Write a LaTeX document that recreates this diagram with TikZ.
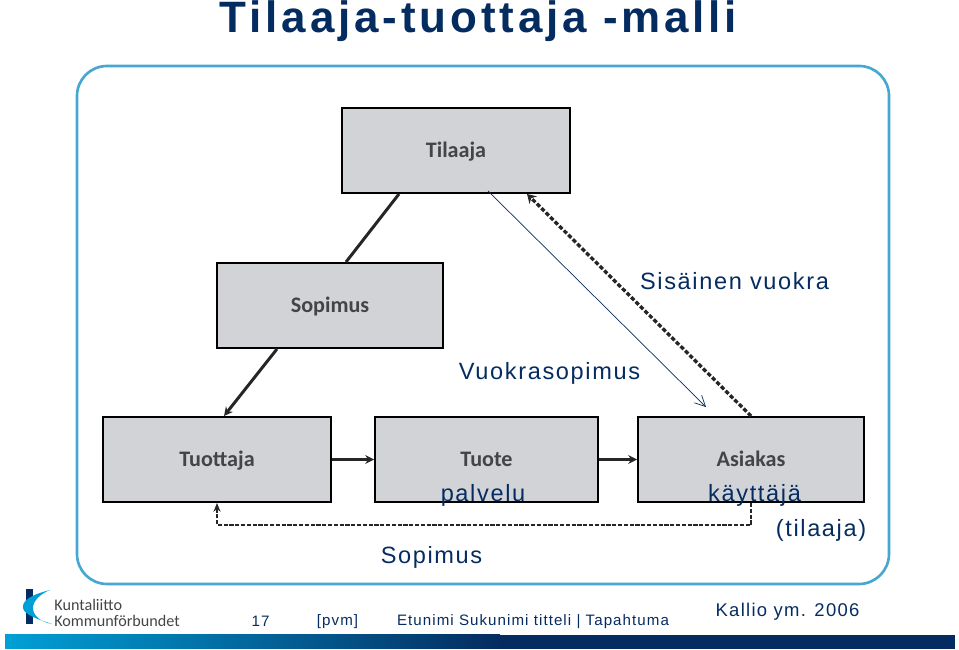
\documentclass[tikz,border=0pt]{standalone}
\usepackage{xcolor}
\usepackage{fontspec}
\setmainfont{Liberation Sans}
\newfontfamily\titlefont[LetterSpace=8.8]{Liberation Sans}
\newfontfamily\notefont[LetterSpace=7]{Liberation Sans}
\newfontfamily\boxfont{Carlito}
\usetikzlibrary{arrows.meta, positioning, calc}
\definecolor{kuntaBlue}{RGB}{5, 44, 96}
\definecolor{kuntaFrame}{RGB}{70, 168, 208}
\definecolor{kuntaGrey}{RGB}{209, 211, 214}
\definecolor{kuntaCyan}{RGB}{0, 160, 214}
\definecolor{kuntaText}{RGB}{66, 68, 72}
\tikzset{
  blockbox/.style={draw=black, line width=1.1pt, fill=kuntaGrey, text=kuntaText, font=\boxfont\bfseries\fontsize{12.6}{15}\selectfont, minimum height=1.7cm, text height=1.95ex, text depth=0.4ex},
  note/.style={text=kuntaBlue, font=\notefont\fontsize{13.4}{16}\selectfont, inner sep=0pt},
  footer/.style={text=kuntaBlue, font=\notefont\fontsize{8.6}{10}\selectfont, inner sep=0pt},
  solidlink/.style={line width=1.7pt, black!85},
  dashlink/.style={line width=1.4pt, black!85, dash pattern=on 2.4pt off 0.9pt}
}
\begin{document}
\begin{tikzpicture}
  \useasboundingbox (0,0) rectangle (19.18,13);
  \node[text=kuntaBlue, font=\titlefont\bfseries\fontsize{25}{28}\selectfont, inner sep=0pt, anchor=base] (title) at (9.57,12.34) {Tilaaja-tuottaja -malli};
  \node[draw=kuntaFrame, line width=1.5pt, rounded corners=0.6cm, minimum width=16.24cm, minimum height=10.36cm, inner sep=0pt] (frame) at (9.66,6.5) {};
  \node[blockbox, minimum width=4.56cm] (tilaaja) at (9.12,9.99) {Tilaaja};
  \node[blockbox, minimum width=4.52cm] (sopimus) at (6.6,6.89) {Sopimus};
  \node[blockbox, minimum width=4.56cm] (tuottaja) at (4.34,3.81) {Tuottaja};
  \node[blockbox, minimum width=4.46cm] (tuote) at (9.73,3.81) {Tuote};
  \node[blockbox, minimum width=4.52cm] (asiakas) at (15.02,3.81) {Asiakas};
  \draw[solidlink] ([xshift=-1.14cm]tilaaja.south) -- ([xshift=0.32cm]sopimus.north);
  \draw[solidlink, -{Stealth[length=5pt,width=5pt]}] ([xshift=-1.06cm]sopimus.south) -- ([xshift=0.14cm]tuottaja.north);
  \draw[solidlink, -{Stealth[length=5pt,width=5pt]}] (tuottaja) -- (tuote);
  \draw[solidlink, -{Stealth[length=5pt,width=5pt]}] (tuote) -- (asiakas);
  \draw[dashlink, -{Stealth[length=5pt,width=4pt]}] (asiakas.south) -- ++(0,-0.44) -| (tuottaja.south);
  \draw[dashlink, line width=1.9pt, dash pattern=on 2.4pt off 1.2pt, -{Stealth[length=5pt,width=6pt]}] (asiakas.north) -- ([xshift=1.42cm]tilaaja.south);
  \coordinate (vuokrastart) at ([xshift=0.64cm,yshift=0.06cm]tilaaja.south);
  \coordinate (vuokraend) at ([xshift=-0.9cm,yshift=0.18cm]asiakas.north);
  \draw[kuntaBlue, line width=0.4pt, -{Straight Barb[length=6pt,width=6pt]}] (vuokrastart) -- (vuokraend);
  \node[note] (vuokra) at (14.69,7.38) {Sisäinen vuokra};
  \node[note] (vuokrasopimus) at (10.99,5.54) {Vuokrasopimus};
  \node[note] (palvelu) at (9.66,3.09) {palvelu};
  \node[note] (kayttaja) at (15.09,3.09) {käyttäjä};
  \node[note] (rooli) at (16.42,2.39) {(tilaaja)};
  \node[note] (sopimusnote) at (8.63,1.85) {Sopimus};
  \node[footer] (sivu) at (5.21,0.57) {17};
  \node[footer] (pvm) at (6.75,0.57) {[pvm]};
  \node[footer] (esittaja) at (10.66,0.57) {Etunimi Sukunimi titteli | Tapahtuma};
  \node[footer, font=\notefont\fontsize{10.5}{12}\selectfont] (lahde) at (15.75,0.77) {Kallio ym. 2006};
  \fill[kuntaBlue] (0.52,0.52) rectangle (0.66,1.22);
  \fill[kuntaCyan] (1.0,1.2) .. controls (0.6,1.1) and (0.44,0.98) .. (0.46,0.84) .. controls (0.48,0.7) and (0.8,0.6) .. (1.04,0.52) .. controls (0.82,0.56) and (0.66,0.68) .. (0.66,0.84) .. controls (0.66,0.98) and (0.8,1.12) .. (1.0,1.2);
  \node[text=kuntaText, font=\boxfont\fontsize{9.2}{8.8}\selectfont, align=left, inner sep=0pt, anchor=west] (logo) at (1.08,0.74) {Kuntaliitto\\Kommunförbundet};
  \fill[kuntaBlue] (9.9,0.02) rectangle (19.1,0.3);
  \shade[left color=kuntaCyan, right color=kuntaBlue] (0.1,0.02) rectangle (10,0.3);
\end{tikzpicture}
\end{document}
